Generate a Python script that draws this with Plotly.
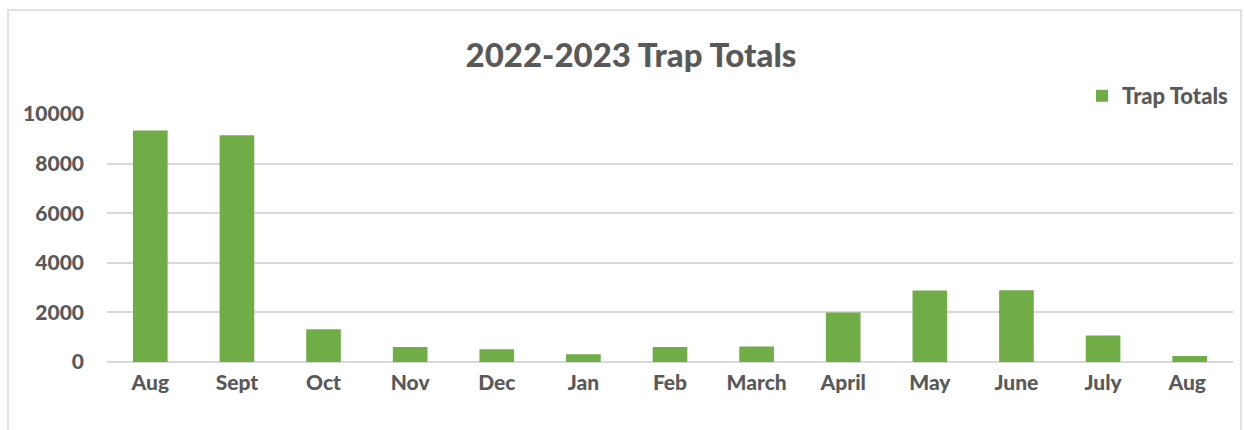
import plotly.graph_objects as go

months = ["Aug", "Sept", "Oct", "Nov", "Dec", "Jan", "Feb", "March", "April", "May", "June", "July", "Aug "]
trap_totals = [9330, 9140, 1320, 605, 515, 310, 605, 620, 2000, 2880, 2895, 1065, 245]
y_ticks = [0, 2000, 4000, 6000, 8000, 10000]
y_tick_labels = ["0", "2000", "4000", "6000", "8000", "10000"]

W, H = 1244, 430
L, R, T, B = 107, 11, 114, 68
pw, ph = W - L - R, H - T - B

def px(x):
    return (x - L) / pw

def py(y):
    return 1 - (y - T) / ph

FONT = "Lato"
TXT = "#595959"

fig = go.Figure(go.Bar(
    x=months, y=trap_totals, name="Trap Totals",
    marker=dict(color="#70AD47", line=dict(width=0)),
    showlegend=True,
))

fig.update_layout(
    width=W, height=H,
    margin=dict(l=L, r=R, t=T, b=B),
    paper_bgcolor="white", plot_bgcolor="white",
    bargap=0.6,
    title=dict(text="2022-2023 Trap Totals", x=(631 / W), xref="container", xanchor="center",
               y=1 - 55 / H, yref="container", yanchor="middle",
               font=dict(family=FONT, size=33, color=TXT, weight=900)),
    legend=dict(x=1.0, xanchor="right", y=py(96), yanchor="middle",
                font=dict(family=FONT, size=22, color=TXT, weight=900),
                itemwidth=30, bgcolor="rgba(0,0,0,0)"),
    xaxis=dict(type="category", tickfont=dict(family=FONT, size=21, color=TXT, weight=900),
               showgrid=False, showline=False, ticks="", ticklabelstandoff=6),
    yaxis=dict(range=[0, 10000], tickvals=y_ticks, ticktext=y_tick_labels,
               showgrid=True, gridcolor="#D9D9D9",
               gridwidth=1.5, zeroline=True, zerolinecolor="#D9D9D9", zerolinewidth=1.5,
               tickfont=dict(family=FONT, size=21, color=TXT, weight=900),
               ticks="", ticklabelstandoff=22),
    shapes=[dict(type="rect", xref="paper", yref="paper",
                 x0=px(8), x1=px(1241), y0=py(470), y1=py(10),
                 line=dict(color="#D9D9D9", width=1.5), fillcolor="rgba(0,0,0,0)", layer="below")],
)

fig.write_html("out.html")
